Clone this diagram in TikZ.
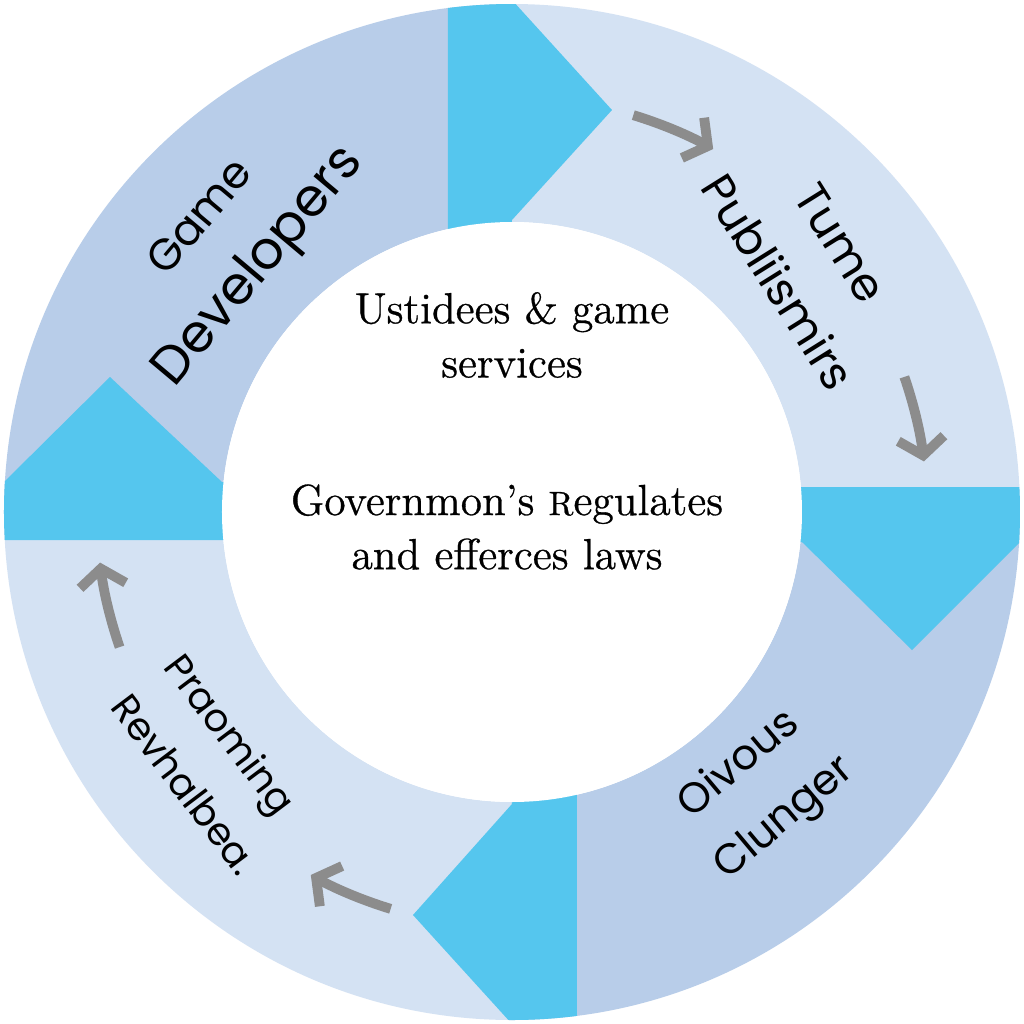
\documentclass[tikz,border=0pt]{standalone}
\usepackage{fontspec}
\newfontfamily\ringfont{Poppins}
\newfontfamily\corefont{Latin Modern Roman}[FakeBold=0.7]
\usepackage{tikz}
\usetikzlibrary{arrows.meta}
\definecolor{darkq}{HTML}{B8CDE9}
\definecolor{lightq}{HTML}{D4E2F3}
\definecolor{pointc}{HTML}{55C6EE}
\definecolor{cyclec}{HTML}{8C8C8C}
\tikzset{
  pointer/.style={fill=pointc, draw=none},
  cyc/.style={draw=cyclec, line width=2.8pt, -{Straight Barb[length=1.7mm, width=4.6mm]}},
  role/.style={font=\ringfont\fontsize{15}{22}\selectfont, align=center, inner sep=0pt},
  core/.style={font=\corefont\fontsize{12.4}{15.4}\selectfont, align=center, inner sep=0pt},
}

\begin{document}
\begin{tikzpicture}
  \def\Ro{5.08}
  \def\Ri{2.90}
  \useasboundingbox[fill=white] (-5.12,-5.12) rectangle (5.12,5.12);
  % ring quadrants
  \foreach \a/\c in {0/lightq, 90/darkq, 180/lightq, 270/darkq}
    \fill[\c] (\a:\Ro) arc[start angle=\a, delta angle=90, radius=\Ro]
      -- (\a+90:\Ri) arc[start angle=\a+90, delta angle=-90, radius=\Ri] -- cycle;
  % pointers between the quadrants
  \begin{scope}
    \clip (0,0) circle[radius=\Ro];
    \fill[pointer] (-0.64,5.2) -- (0,5.2) -- (0,5.12) -- (1.00,4.02) -- (0,2.92) -- (0,2.8) -- (-0.64,2.8) -- cycle;
    \fill[pointer] (2.8,0.25) -- (5.2,0.25) -- (5.2,-0.30) -- (5.08,-0.30) -- (4.0,-1.38) -- (2.9,-0.30) -- (2.8,-0.30) -- cycle;
    \fill[pointer] (0.65,-2.8) -- (0.65,-5.2) -- (0,-5.2) -- (0,-5.12) -- (-0.99,-4.03) -- (0,-2.92) -- (0,-2.8) -- cycle;
    \fill[pointer] (-2.8,-0.28) -- (-5.2,-0.28) -- (-5.2,0.30) -- (-5.08,0.30) -- (-4.02,1.35) -- (-2.9,0.30) -- (-2.8,0.30) -- cycle;
  \end{scope}
  \node[circle, fill=white, inner sep=0pt, minimum size=2*\Ri cm] (hub) at (0,0) {};
  % cycle arrows
  \foreach \s in {73, 19, -107, -161}
    \draw[cyc] (\s:4.15) arc[start angle=\s, delta angle=-12, radius=4.15];

  \node[role, rotate=50] (dev) at (-2.79,2.67) {{\fontsize{12.5}{22}\selectfont Game}\\Developers};
  \node[role, rotate=-58, font=\ringfont\fontsize{13}{21}\selectfont] (pub) at (2.97,2.49) {Tume\\Publiismirs};
  \node[role, rotate=40, font=\ringfont\fontsize{12}{20}\selectfont] (con) at (2.50,-2.80) {Oivous\\Clunger};
  \node[role, rotate=-53, align=left, font=\ringfont\fontsize{11}{19}\selectfont] (rev) at (-3.00,-2.52) {Praoming\\Revhalbea.};

  \node[core] (svc) at (0,1.77) {Ustidees \& game\\services};
  \node[core] (gov) at (-0.05,-0.15) {Governmon’s {\fontsize{9.6}{10}\selectfont R}egulates\\and efferces laws};
\end{tikzpicture}
\end{document}
